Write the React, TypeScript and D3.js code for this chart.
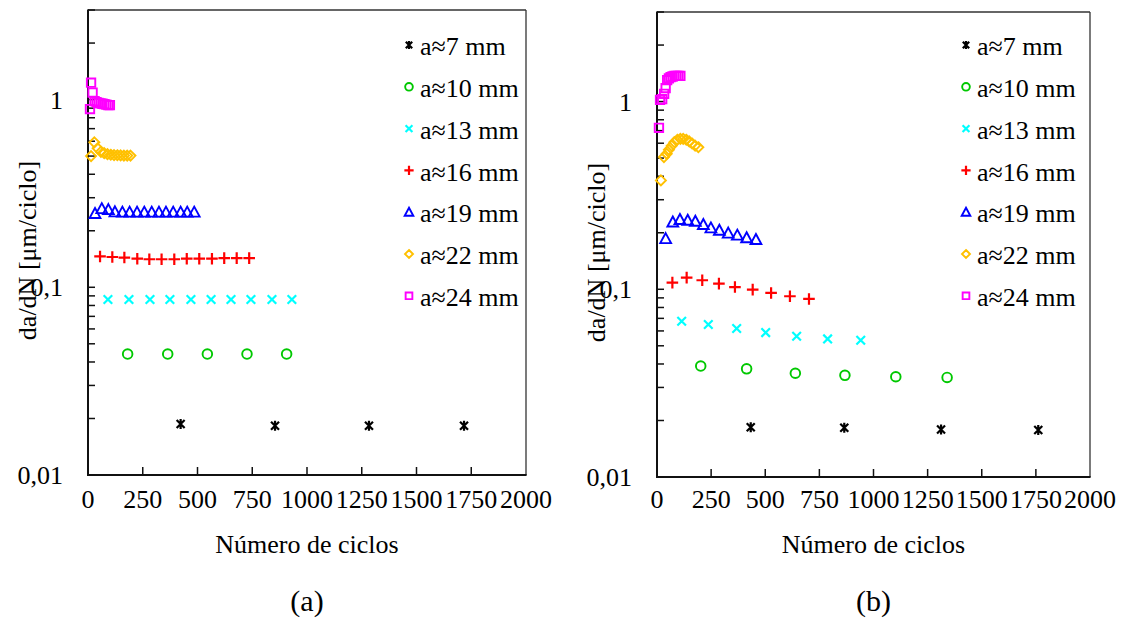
import React from 'react';
import * as d3 from 'd3';

// Series identity (shared by both panels)
const seriesLabels = ['a≈7 mm', 'a≈10 mm', 'a≈13 mm', 'a≈16 mm', 'a≈19 mm', 'a≈22 mm', 'a≈24 mm'];
const seriesColors = ['#000000', '#00c800', '#00ffff', '#ff0000', '#0000ff', '#ffc000', '#ff00ff'];
const seriesSymbols = ['star', 'circle', 'cross', 'plus', 'triangle', 'diamond', 'square'];

// Axis ticks
const xTicks = [0, 250, 500, 750, 1000, 1250, 1500, 1750, 2000];
const yMajorTicks = [0.01, 0.1, 1];
const yTickLabels = ['0,01', '0,1', '1'];
const yDomain = [0.01, 3];
const xDomain = [0, 2000];

// Panel (a): [number of cycles, da/dN in µm/cycle]
const a07 = [[423, 0.0187], [854, 0.0183], [1283, 0.0183], [1717, 0.0183]];
const a10 = [[181, 0.0441], [364, 0.0441], [545, 0.0441], [726, 0.0441], [907, 0.0441]];
const a13 = [[91, 0.0861], [187, 0.0861], [283, 0.0861], [374, 0.0861], [470, 0.0861], [562, 0.0861], [653, 0.0861], [744, 0.0861], [840, 0.0861], [931, 0.0861]];
const a16 = [[55, 0.146], [111, 0.145], [166, 0.144], [225, 0.142], [280, 0.141], [336, 0.141], [394, 0.141], [451, 0.142], [508, 0.142], [566, 0.142], [622, 0.143], [679, 0.143], [736, 0.143]];
const a19 = [[32, 0.247], [63, 0.262], [93, 0.259], [123, 0.252], [157, 0.251], [190, 0.251], [224, 0.251], [257, 0.251], [291, 0.251], [324, 0.251], [356, 0.251], [389, 0.251], [423, 0.251], [453, 0.251], [485, 0.251]];
const a22 = [[14, 0.500], [29, 0.592], [44, 0.550], [59, 0.527], [74, 0.518], [89, 0.512], [104, 0.508], [119, 0.506], [134, 0.505], [149, 0.504], [164, 0.503], [179, 0.503], [194, 0.503]];
const a24 = [[9, 0.89], [14, 1.23], [21, 1.09], [30, 0.98], [39, 0.97], [48, 0.96], [57, 0.955], [66, 0.95], [75, 0.945], [84, 0.94], [93, 0.935], [100, 0.935]];

// Panel (b)
const b07 = [[433, 0.0184], [865, 0.0183], [1312, 0.0179], [1761, 0.0178]];
const b10 = [[202, 0.0390], [414, 0.0377], [639, 0.0357], [868, 0.0348], [1103, 0.0342], [1340, 0.0339]];
const b13 = [[114, 0.0676], [237, 0.0649], [368, 0.0618], [502, 0.0588], [645, 0.0562], [788, 0.0544], [941, 0.0535]];
const b16 = [[71, 0.1085], [137, 0.1154], [209, 0.1117], [286, 0.1072], [360, 0.1028], [442, 0.0996], [527, 0.0956], [614, 0.0918], [702, 0.0888]];
const b19 = [[40, 0.186], [73, 0.228], [106, 0.235], [142, 0.233], [177, 0.230], [214, 0.221], [249, 0.212], [288, 0.206], [329, 0.199], [371, 0.194], [414, 0.188], [457, 0.184]];
const b22 = [[18, 0.380], [32, 0.506], [45, 0.527], [55, 0.554], [68, 0.581], [80, 0.608], [94, 0.626], [108, 0.633], [121, 0.633], [135, 0.626], [149, 0.613], [162, 0.598], [176, 0.583], [191, 0.571]];
const b24 = [[9, 0.725], [14, 1.02], [24, 1.03], [33, 1.10], [40, 1.18], [47, 1.30], [55, 1.33], [63, 1.35], [72, 1.36], [81, 1.37], [90, 1.37], [99, 1.37], [108, 1.37]];

const panelAData = [a07, a10, a13, a16, a19, a22, a24];
const panelBData = [b07, b10, b13, b16, b19, b22, b24];

const FONT = '"Liberation Serif", "Times New Roman", serif';

function Marker({ symbol, color, x, y, k = 1 }) {
  const t = `translate(${x},${y}) scale(${k})`;
  const common = { fill: 'none', stroke: color, strokeWidth: 1.9 / k };
  switch (symbol) {
    case 'star':
      return <path transform={t} {...common} strokeWidth={2.2 / k} d="M-4,-4L4,4M-4,4L4,-4M0,-5L0,5" />;
    case 'circle':
      return <circle transform={t} {...common} r={4.8} />;
    case 'cross':
      return <path transform={t} {...common} strokeWidth={2.2 / k} d="M-4.3,-4.3L4.3,4.3M-4.3,4.3L4.3,-4.3" />;
    case 'plus':
      return <path transform={t} {...common} strokeWidth={2.2 / k} d="M-5.8,0L5.8,0M0,-5.8L0,5.8" />;
    case 'triangle':
      return <path transform={t} {...common} d="M0,-5.6L5.4,4.4L-5.4,4.4Z" />;
    case 'diamond':
      return <path transform={t} {...common} d="M0,-5L5,0L0,5L-5,0Z" />;
    case 'square':
      return <path transform={t} {...common} d="M-4.2,-4.2H4.2V4.2H-4.2Z" />;
    default:
      return null;
  }
}

function Panel({ left, right, top, bottom, data, legendX, caption }) {
  const x = d3.scaleLinear().domain(xDomain).range([left, right]);
  const y = d3.scaleLog().domain(yDomain).range([bottom, top]);
  const cx = (left + right) / 2;

  const minorTicks = [];
  yMajorTicks.forEach((d) => {
    for (let m = 1; m <= 9; m++) {
      const v = d * m;
      if (v <= yDomain[1] + 1e-9) minorTicks.push(v);
    }
  });

  return (
    <g>
      {/* frame */}
      <line x1={left} x2={right} y1={top} y2={top} stroke="#333" strokeWidth={1.3} />
      <line x1={right} x2={right} y1={top} y2={bottom} stroke="#333" strokeWidth={1.3} />
      <line x1={left} x2={left} y1={top - 0.6} y2={bottom + 1} stroke="#111" strokeWidth={2} />
      <line x1={left - 1} x2={right + 0.6} y1={bottom} y2={bottom} stroke="#111" strokeWidth={2} />

      {/* y ticks */}
      {minorTicks.map((v, i) => (
        <line key={`yt${i}`} x1={left} x2={left + 7} y1={y(v)} y2={y(v)} stroke="#111" strokeWidth={1.5} />
      ))}
      {yMajorTicks.map((v, i) => (
        <text key={`yl${i}`} x={left - 25} y={y(v)} dy="0.35em" textAnchor="end" fontFamily={FONT} fontSize={26}>
          {yTickLabels[i]}
        </text>
      ))}

      {/* x ticks */}
      {xTicks.map((v, i) => (
        <g key={`xt${i}`}>
          {i > 0 && i < xTicks.length - 1 && (
            <line x1={x(v)} x2={x(v)} y1={bottom} y2={bottom - 8} stroke="#111" strokeWidth={1.5} />
          )}
          <text x={x(v)} y={508} textAnchor="middle" fontFamily={FONT} fontSize={26}>
            {v}
          </text>
        </g>
      ))}

      {/* axis titles */}
      <text x={cx} y={553} textAnchor="middle" fontFamily={FONT} fontSize={26}>
        Número de ciclos
      </text>
      <text
        transform={`translate(${left - 61},${(top + bottom) / 2 + 8}) rotate(-90)`}
        textAnchor="middle"
        dy="0.35em"
        fontFamily={FONT}
        fontSize={26}
      >
        da/dN [μm/ciclo]
      </text>
      <text x={cx} y={611} textAnchor="middle" fontFamily={FONT} fontSize={30}>
        {caption}
      </text>

      {/* data */}
      {data.map((pts, s) =>
        pts.map((p, j) => (
          <Marker key={`m${s}-${j}`} symbol={seriesSymbols[s]} color={seriesColors[s]} x={x(p[0])} y={y(p[1])} />
        ))
      )}

      {/* legend */}
      {seriesLabels.map((lab, s) => {
        const ly = 46 + s * 41.8;
        return (
          <g key={`lg${s}`}>
            <Marker symbol={seriesSymbols[s]} color={seriesColors[s]} x={legendX} y={ly - 1} k={0.8} />
            <text x={legendX + 11} y={ly} dy="0.35em" fontFamily={FONT} fontSize={26}>
              {lab}
            </text>
          </g>
        );
      })}
    </g>
  );
}

export default function App() {
  return (
    <svg
      width={1121}
      height={618}
      style={{ position: 'absolute', left: 0, top: 0, background: '#fff' }}
    >
      <rect x={0} y={0} width={1121} height={618} fill="#fff" />
      <Panel left={88} right={526} top={10} bottom={475} data={panelAData} legendX={409} caption="(a)" />
      <Panel left={657} right={1090} top={12} bottom={477} data={panelBData} legendX={966} caption="(b)" />
    </svg>
  );
}
